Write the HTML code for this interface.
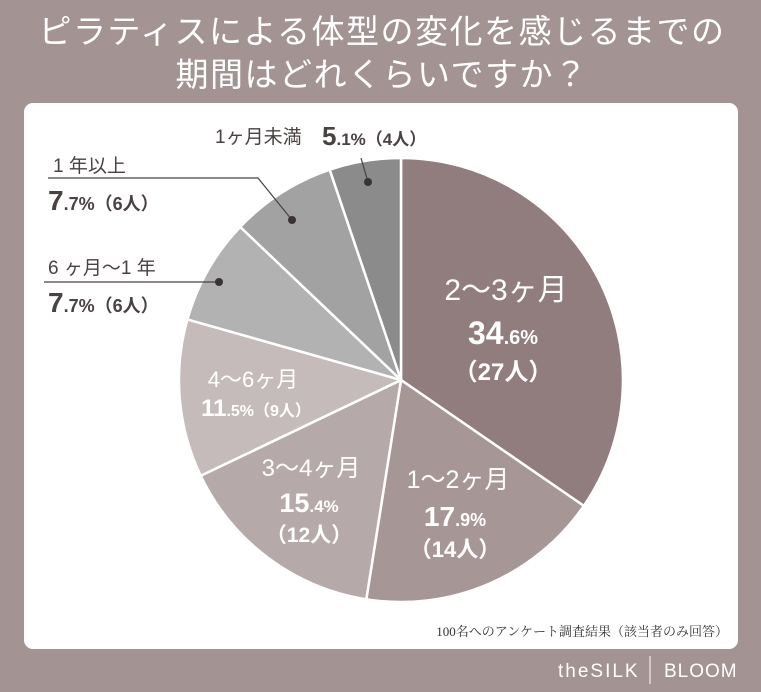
<!DOCTYPE html>
<html><head><meta charset="utf-8"><style>
body{margin:0;width:761px;height:692px;background:#a39393;overflow:hidden;font-family:"Liberation Sans","Noto Sans CJK JP",sans-serif;}
</style></head><body>
<svg width="761" height="692" viewBox="0 0 761 692" xmlns="http://www.w3.org/2000/svg" style="position:absolute;left:0;top:0">
<g font-family="'Liberation Sans','Noto Sans CJK JP',sans-serif">
<text x="382" y="43" fill="#fff" font-size="33" text-anchor="middle" letter-spacing="1.5">ピラティスによる体型の変化を感じるまでの</text>
<text x="382" y="86" fill="#fff" font-size="33" text-anchor="middle" letter-spacing="1.5">期間はどれくらいですか？</text>
<rect x="24" y="103" width="714" height="546" rx="9" fill="#fff"/>
<g stroke="#fff" stroke-width="2.5" stroke-linejoin="round">
<path d="M401,380 L401,158 A222,222 0 0 1 583.8,505.9 Z" fill="#917d7d"/>
<path d="M401,380 L583.8,505.9 A222,222 0 0 1 366.3,599.3 Z" fill="#a69696"/>
<path d="M401,380 L366.3,599.3 A222,222 0 0 1 200.7,475.8 Z" fill="#b6a9a9"/>
<path d="M401,380 L200.7,475.8 A222,222 0 0 1 187.4,319.4 Z" fill="#c6bbbb"/>
<path d="M401,380 L187.4,319.4 A222,222 0 0 1 240.2,226.9 Z" fill="#b2b2b2"/>
<path d="M401,380 L240.2,226.9 A222,222 0 0 1 329.7,169.7 Z" fill="#a2a2a2"/>
<path d="M401,380 L329.7,169.7 A222,222 0 0 1 401,158 Z" fill="#8b8b8b"/>
</g>
<g fill="#fff" text-anchor="middle" font-weight="bold">
<text x="506" y="300" font-size="30" font-weight="normal">2〜3ヶ月</text>
<text x="503" y="344" font-size="32">34<tspan font-size="20">.6%</tspan></text>
<text x="503" y="380" font-size="24">（27人）</text>
<text x="458" y="488" font-size="25" font-weight="normal">1〜2ヶ月</text>
<text x="455" y="526" font-size="28">17<tspan font-size="18">.9%</tspan></text>
<text x="455" y="557" font-size="22">（14人）</text>
<text x="311" y="476" font-size="24" font-weight="normal">3〜4ヶ月</text>
<text x="309" y="512" font-size="27">15<tspan font-size="17">.4%</tspan></text>
<text x="309" y="542" font-size="21">（12人）</text>
<text x="253" y="387" font-size="22" font-weight="normal">4〜6ヶ月</text>
<text x="256" y="416" font-size="24">11<tspan font-size="16">.5%（9人）</tspan></text>
</g>
<g fill="#4a4141">
<text x="215" y="143" font-size="19">1ヶ月未満</text>
<text x="322" y="145" font-size="26" font-weight="bold">5<tspan font-size="17">.1%（4人）</tspan></text>
<text x="53" y="172" font-size="19">1 年以上</text>
<text x="48" y="210" font-size="28" font-weight="bold">7<tspan font-size="18">.7%（6人）</tspan></text>
<text x="48" y="274" font-size="19">6 ヶ月〜1 年</text>
<text x="48" y="312" font-size="28" font-weight="bold">7<tspan font-size="18">.7%（6人）</tspan></text>
</g>
<g stroke="#4a4141" stroke-width="1.2" fill="none">
<polyline points="48,178 258,178 292,220"/>
<line x1="44" y1="282" x2="219" y2="282"/>
<line x1="361" y1="158" x2="368" y2="182"/>
</g>
<g fill="#3a3333">
<circle cx="292" cy="220" r="4"/><circle cx="219" cy="282" r="4"/><circle cx="368" cy="182" r="4"/>
</g>
<text x="728" y="636" font-size="13" fill="#333" text-anchor="end" font-family="'Liberation Serif','Noto Serif CJK SC',serif">100名へのアンケート調査結果（該当者のみ回答）</text>
<text x="558" y="677" font-size="19" fill="#fff" letter-spacing="2">theSILK</text>
<line x1="650" y1="656" x2="650" y2="684" stroke="#fff" stroke-width="1"/>
<text x="664" y="677" font-size="19" fill="#fff" letter-spacing="1">BLOOM</text>
</g>
</svg>
</body></html>
